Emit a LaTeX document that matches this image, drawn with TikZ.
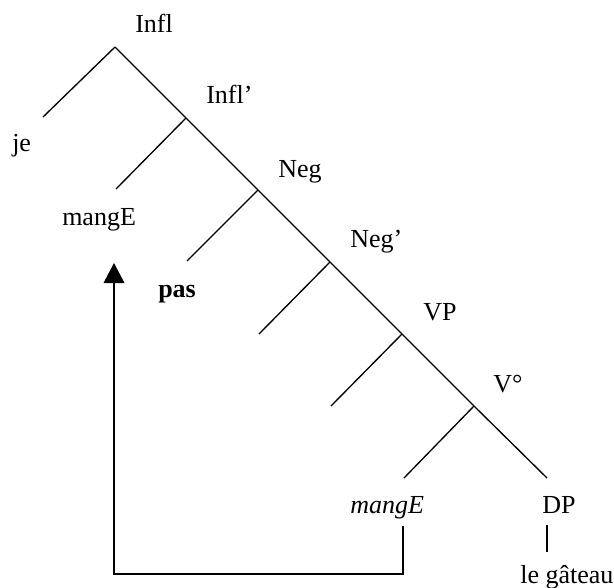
\documentclass[tikz,border=0pt]{standalone}
\usepackage{fontspec}
\setmainfont{Liberation Serif}
\usetikzlibrary{arrows.meta}
\begin{document}
\begin{tikzpicture}[x=0.75pt,y=-0.75pt,
  branch/.style={line width=1pt},
  lab/.style={anchor=base west,inner sep=0pt,font=\fontsize{19.5}{22}\selectfont},
  move/.style={line width=1pt,-{Triangle[width=15.5pt,length=15pt]}}]
\useasboundingbox (0,0) rectangle (614,587);
% branch points
\coordinate (infl) at (115,47);
\coordinate (inflb) at (186,118);
\coordinate (neg) at (258,190);
\coordinate (negb) at (330,262);
\coordinate (vp) at (402,334);
\coordinate (v) at (474,406);
\coordinate (dp) at (547,478);
\coordinate (je) at (43,117);
\coordinate (mg) at (116,189);
\coordinate (pas) at (187,261);
\coordinate (e1) at (259,334);
\coordinate (e2) at (331,406);
\coordinate (mgi) at (404,478);
% tree lines
\draw[branch] (infl) -- (inflb) -- (neg) -- (negb) -- (vp) -- (v) -- (dp);
\draw[branch] (infl) -- (je);
\draw[branch] (inflb) -- (mg);
\draw[branch] (neg) -- (pas);
\draw[branch] (negb) -- (e1);
\draw[branch] (vp) -- (e2);
\draw[branch] (v) -- (mgi);
% labels
\node[lab] (tInfl) at (135,32) {Infl};
\node[lab] (tInflb) at (206,103) {Infl’};
\node[lab] (tje) at (12,151) {je};
\node[lab] (tmg) at (62,225) {mangE};
\node[lab] (tNeg) at (278,177) {Neg};
\node[lab] (tpas) at (158,297) {\bfseries pas};
\node[lab] (tNegb) at (350,247) {Neg’};
\node[lab] (tVP) at (423,320) {VP};
\node[lab] (tV) at (493,392) {V°};
\node[lab] (tmgi) at (350,513) {\itshape mangE};
\node[lab] (tDP) at (542,513) {DP};
\node[lab] (tgat) at (520,583) {le gâteau};
% DP to le gateau
\coordinate (dpa) at (547,525);
\coordinate (dpb) at (547,552);
\draw[branch] (dpa) -- (dpb);
% movement arrow
\coordinate (ms) at (403,526);
\coordinate (mc1) at (403,574);
\coordinate (mc2) at (114,574);
\coordinate (mt) at (114,263);
\draw[move] (ms) -- (mc1) -- (mc2) -- (mt);
\end{tikzpicture}
\end{document}
